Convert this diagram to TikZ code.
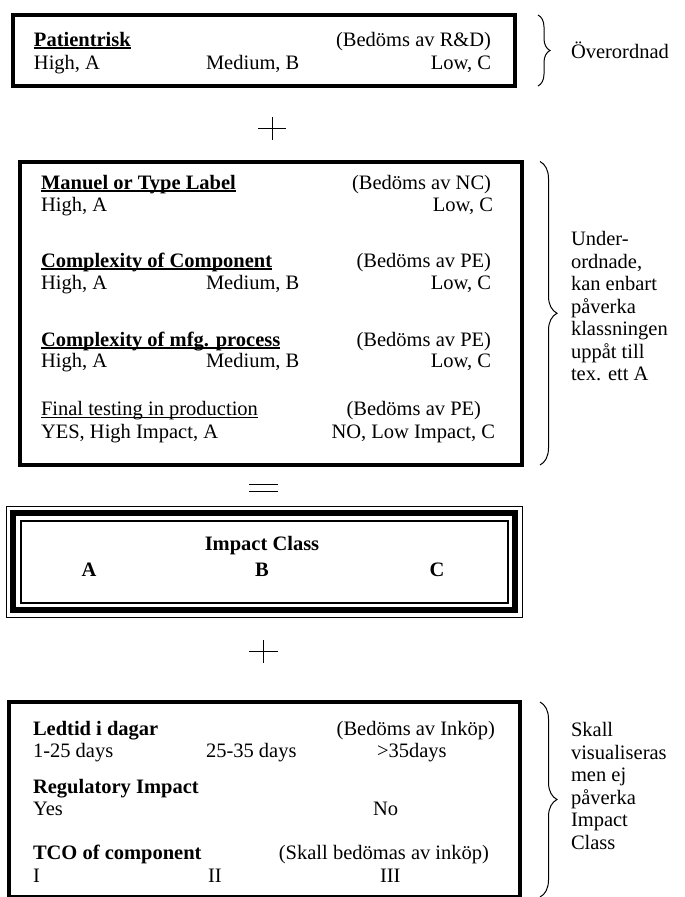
\documentclass[tikz,border=0pt]{standalone}
\usepackage{fontspec}
\setmainfont{Liberation Serif}
\usetikzlibrary{decorations.pathreplacing}
% underline drawn just below the baseline, crossing descenders
\newcommand\hdrline[2]{\setbox0\hbox{#2}\rlap{\rule[-3.2pt]{\wd0}{#1}}\box0}
\begin{document}
\begin{tikzpicture}[x=1pt,y=-1pt,
  txt/.style={inner sep=0pt, outer sep=0pt, font=\fontsize{20.5}{22.5}\selectfont},
  lbl/.style={txt, anchor=base west},
  rlbl/.style={txt, anchor=base east},
  clbl/.style={txt, anchor=base},
  note/.style={txt, align=left, anchor=north west},
  framebox/.style={draw, line width=4pt, outer sep=0pt, inner sep=0pt},
  bracket/.style={decorate, decoration={brace, amplitude=#1}, line width=1pt},
  sign/.style={line width=1pt}]

\useasboundingbox[fill=white] (0,0) rectangle (685,897);

% --- top block: patient risk
\node[framebox, minimum width=502pt, minimum height=71pt] (risk) at (264,50.5) {};
\node[lbl] (riskT) at (34,46) {\textbf{\hdrline{1.8pt}{Patientrisk}}};
\node[rlbl] (riskW) at (491,46) {(Bedöms av R\&D)};
\node[lbl] (riskA) at (34,69) {High, A};
\node[lbl] (riskB) at (206,69) {Medium, B};
\node[rlbl] (riskC) at (491,69) {Low, C};
\draw[bracket=12pt] ([xshift=23pt]risk.north east) -- ([xshift=23pt]risk.south east);
\node[lbl] (over) at (571,58) {Överordnad};

% plus sign
\draw[sign] (258,128) -- (286,128);
\draw[sign] (272,117) -- (272,140);

% --- second block: subordinate factors
\node[framebox, minimum width=502pt, minimum height=303.5pt] (sub) at (271,313.25) {};
\node[lbl] (m1) at (41,189) {\textbf{\hdrline{1.8pt}{Manuel or Type Label}}};
\node[rlbl] (m1w) at (491,189) {(Bedöms av NC)};
\node[lbl] (m1a) at (41,211) {High, A};
\node[rlbl] (m1c) at (493,211) {Low, C};

\node[lbl] (m2) at (41,267) {\textbf{\hdrline{1.8pt}{Complexity of Component}}};
\node[rlbl] (m2w) at (491,267) {(Bedöms av PE)};
\node[lbl] (m2a) at (41,289) {High, A};
\node[lbl] (m2b) at (206,289) {Medium, B};
\node[rlbl] (m2c) at (491,289) {Low, C};

\node[lbl] (m3) at (41,346) {\textbf{\hdrline{1.8pt}{Complexity of mfg. process}}};
\node[rlbl] (m3w) at (491,346) {(Bedöms av PE)};
\node[lbl] (m3a) at (41,367) {High, A};
\node[lbl] (m3b) at (206,367) {Medium, B};
\node[rlbl] (m3c) at (491,367) {Low, C};

\node[lbl] (m4) at (41,415) {\hdrline{1pt}{Final testing in production}};
\node[rlbl] (m4w) at (481,415) {(Bedöms av PE)};
\node[lbl] (m4a) at (41,438) {YES, High Impact, A};
\node[rlbl] (m4c) at (495,438) {NO, Low Impact, C};

\draw[bracket=17pt] ([xshift=18pt]sub.north east) -- ([xshift=18pt]sub.south east);
\node[note] (under) at (571,230) {\strut Under-\\ordnade,\\kan enbart\\påverka\\klassningen\\uppåt till\\tex. ett A};

% equals sign
\draw[sign] (249,484) -- (278,484);
\draw[sign] (249,491) -- (278,491);

% --- result block: impact class with triple frame
\node[draw, line width=6pt, outer sep=0pt, minimum width=502pt, minimum height=97pt] (impact) at (264,561.5) {};
\draw[line width=1pt] ([shift={(-7pt,7pt)}]impact.north west) rectangle ([shift={(7pt,-7pt)}]impact.south east);
\draw[line width=2pt] ([shift={(7.5pt,-7.5pt)}]impact.north west) rectangle ([shift={(-7.5pt,7.5pt)}]impact.south east);
\node[clbl] (ic) at (262,550) {\textbf{Impact Class}};
\node[clbl] (icA) at (89,576) {\textbf{A}};
\node[clbl] (icB) at (262,576) {\textbf{B}};
\node[clbl] (icC) at (437,576) {\textbf{C}};

% plus sign
\draw[sign] (249,651) -- (278,651);
\draw[sign] (263,640) -- (263,663);

% --- bottom block: visualised only
\node[framebox, minimum width=511pt, minimum height=195pt] (vis) at (264.5,799.5) {};
\node[lbl] (v1) at (33,735) {\textbf{Ledtid i dagar}};
\node[rlbl] (v1w) at (495,735) {(Bedöms av Inköp)};
\node[lbl] (v1a) at (33,757) {1-25 days};
\node[lbl] (v1b) at (206,757) {25-35 days};
\node[lbl] (v1c) at (377,757) {>35days};

\node[lbl] (v2) at (33,793) {\textbf{Regulatory Impact}};
\node[lbl] (v2a) at (33,815) {Yes};
\node[lbl] (v2b) at (373,815) {No};

\node[lbl] (v3) at (33,859) {\textbf{TCO of component}};
\node[rlbl] (v3w) at (489,859) {(Skall bedömas av inköp)};
\node[lbl] (v3a) at (33,882) {I};
\node[lbl] (v3b) at (208,882) {II};
\node[lbl] (v3c) at (380,882) {III};

\draw[bracket=17pt] ([xshift=20pt]vis.north east) -- ([xshift=20pt]vis.south east);
\node[note] (skall) at (571,721) {\strut Skall\\visualiseras\\men ej\\påverka\\Impact\\Class};
\end{tikzpicture}
\end{document}
